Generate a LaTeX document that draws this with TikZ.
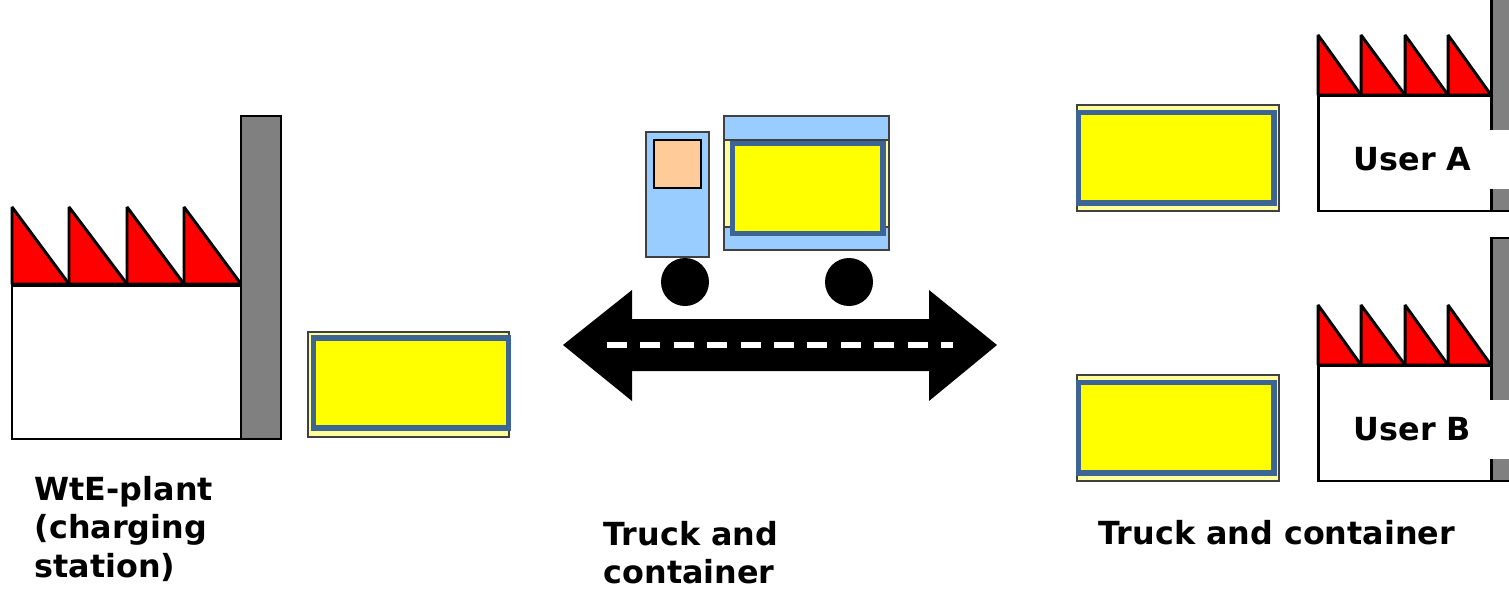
\documentclass[tikz,border=0pt]{standalone}
\usepackage{fontspec}
\setmainfont{DejaVu Sans}
\usepackage{xcolor}
\definecolor{plantred}{RGB}{255,0,0}
\definecolor{stackgray}{RGB}{128,128,128}
\definecolor{boxyellow}{RGB}{255,255,0}
\definecolor{boxpale}{RGB}{255,255,153}
\definecolor{boxblue}{RGB}{60,100,148}
\definecolor{truckblue}{RGB}{153,204,255}
\definecolor{cabskin}{RGB}{255,204,153}
\definecolor{edgegray}{RGB}{64,64,64}

\begin{document}
\begin{tikzpicture}[
    wall/.style={draw=black,line width=0.85pt,fill=white},
    stack/.style={draw=black,line width=0.85pt,fill=stackgray},
    tooth/.style={draw=black,line width=0.85pt,fill=plantred,line join=bevel},
    palebox/.style={draw=edgegray,line width=0.35pt,fill=boxpale},
    frame/.style={draw=boxblue,line width=1.45pt,fill=boxyellow},
    bodywork/.style={draw=edgegray,line width=0.45pt,fill=truckblue},
    caption/.style={font=\fontsize{9.05}{10.9}\selectfont\bfseries,align=left,inner sep=0pt},
    userlabel/.style={caption,fill=white,anchor=west,text width=2cm,minimum height=0.59cm,inner xsep=0.21cm}]
    \path[use as bounding box] (0,0) rectangle (15.09,5.88);
    \clip (0,0) rectangle (15.09,5.88);

    % WtE plant
    \foreach \x/\xx in {0.12/0.69,0.69/1.27,1.27/1.84,1.84/2.41}
        \draw[tooth] (\x,3.04) -- (\x,3.81) -- (\xx,3.04) -- cycle;
    \draw[stack] (2.41,1.49) rectangle (2.81,4.72);
    \draw[wall] (0.12,1.49) rectangle (2.41,3.02);

    % Waiting container
    \draw[palebox] (3.08,1.51) rectangle (5.09,2.56);
    \draw[frame] (3.135,1.60) rectangle (5.085,2.50);

    % Truck
    \draw[bodywork] (7.24,3.38) rectangle (8.89,4.72);
    \draw[palebox] (7.24,3.61) rectangle (8.89,4.48);
    \draw[frame] (7.325,3.545) rectangle (8.83,4.445);
    \fill[black] (6.85,3.06) circle (0.24);
    \fill[black] (8.49,3.06) circle (0.24);
    \draw[bodywork] (6.46,3.31) rectangle (7.09,4.56);
    \draw[draw=black,line width=0.45pt,fill=cabskin] (6.54,4.00) rectangle (7.01,4.48);

    % Road
    \fill[black] (5.63,2.43) -- (6.32,2.98) -- (6.32,2.69) -- (9.29,2.69) -- (9.29,2.98)
        -- (9.97,2.43) -- (9.29,1.87) -- (9.29,2.17) -- (6.32,2.17) -- (6.32,1.87) -- cycle;
    \draw[white,line width=0.06cm,dash pattern=on 0.2cm off 0.134cm] (6.07,2.43) -- (9.53,2.43);

    % Users
    \foreach \yy/\who in {0/A,-2.7/B} {
        \begin{scope}[yshift=\yy cm]
            \foreach \x/\xx in {13.18/13.61,13.61/14.05,14.05/14.48,14.48/14.91}
                \draw[tooth] (\x,4.93) -- (\x,5.53) -- (\xx,4.93) -- cycle;
            \draw[stack] (14.91,3.77) rectangle (15.4,6.2);
            \draw[wall] (13.18,3.77) rectangle (14.91,4.92);
            \draw[palebox] (10.77,3.77) rectangle (12.79,4.83);
            \draw[frame] (10.785,3.85) rectangle (12.74,4.755);
            \node[userlabel] (user\who) at (13.32,4.29) {User \who};
        \end{scope}
    }

    % Captions
    \node[caption,anchor=west] (plantlabel) at (0.34,0.59) {WtE-plant\\(charging\\station)};
    \node[caption,anchor=west] (trucklabel) at (6.03,0.355) {Truck and\\container};
    \node[caption,anchor=west] (userslabel) at (10.98,0.55) {Truck and container};
\end{tikzpicture}
\end{document}
